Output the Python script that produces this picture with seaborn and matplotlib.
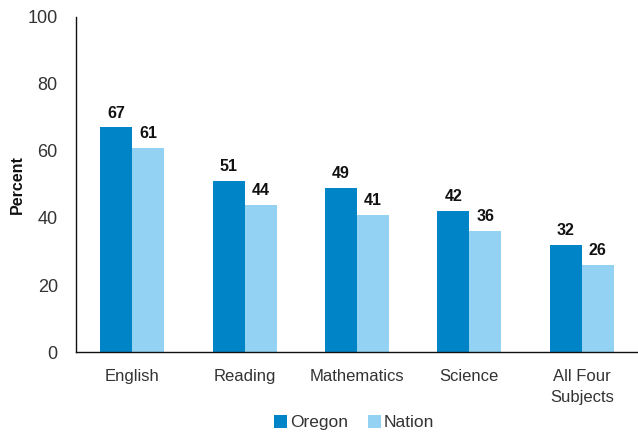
import pandas as pd
import matplotlib.pyplot as plt
import seaborn as sns

# data
subjects = ["English", "Reading", "Mathematics", "Science", "All Four\nSubjects"]
oregon = [67, 51, 49, 42, 32]
nation = [61, 44, 41, 36, 26]
groups = ["Oregon", "Nation"]
colors = ["#0084C8", "#93D2F3"]

df = pd.DataFrame({
    "Subject": subjects * 2,
    "Percent": oregon + nation,
    "Group": [groups[0]] * len(subjects) + [groups[1]] * len(subjects),
})

sns.set_style("white")
plt.rcParams["font.family"] = ["Liberation Sans", "DejaVu Sans"]

fig = plt.figure(figsize=(6.38, 4.32), dpi=100)
ax = fig.add_axes([0.119, 0.185, 0.881, 0.776])

sns.barplot(data=df, x="Subject", y="Percent", hue="Group",
            palette=colors, width=0.57, saturation=1, linewidth=0, ax=ax)

for cont in ax.containers:
    ax.bar_label(cont, padding=5, fontsize=11.5, fontweight="bold", color="#111111")

ax.set_ylim(0, 100)
ax.set_yticks(range(0, 101, 20))
ax.set_xlabel("")
ax.set_ylabel("Percent", fontsize=11.5, fontweight="bold", color="#111111")
ax.yaxis.set_label_coords(-0.09, 0.5)
ax.tick_params(axis="both", length=0, colors="#333333")
ax.tick_params(axis="x", pad=12, labelsize=12)
ax.tick_params(axis="y", pad=13, labelsize=13)
for lab in ax.get_xticklabels():
    lab.set_linespacing(1.5)
    lab.set_verticalalignment("top")

sns.despine(ax=ax, top=True, right=True)
for s in ["left", "bottom"]:
    ax.spines[s].set_color("#111111")
    ax.spines[s].set_linewidth(1.0)

ax.legend(loc="lower center", bbox_to_anchor=(0.495, -0.28), ncol=2, frameon=False,
          fontsize=12.5, handlelength=0.75, handleheight=0.75, handletextpad=0.2,
          columnspacing=1.1, labelcolor="#333333")

fig.savefig("out.png", dpi=100)
